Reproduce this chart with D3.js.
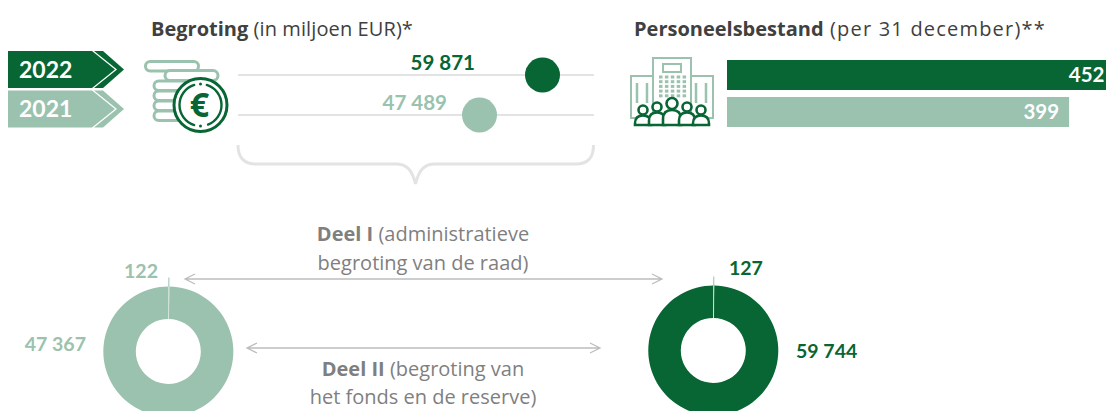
<!DOCTYPE html>
<html>
<head>
<meta charset="utf-8">
<script src="https://cdn.jsdelivr.net/npm/d3@7"></script>
<style>
  html, body { margin: 0; padding: 0; background: #fff; overflow: hidden; }
  text { font-family: "Open Sans", sans-serif; }
  .num { font-family: Lato, sans-serif; font-weight: 700; }
</style>
</head>
<body>
<div id="chart"></div>
<script>
// values
const years = ["2022", "2021"];
const budget = [59871, 47489];
const staff = [452, 399];
const part1 = [127, 122];
const part2 = [59744, 47367];

const dark = "#076633";
const light = "#9ac2ae";
const grey = "#7f7f7f";
const rule = "#e3e3e3";
const arrowGrey = "#bdbdbd";

const width = 1106;
const height = 411;

const fmt = d => String(d).replace(/\B(?=(\d{3})+$)/g, " ");

const svg = d3.select("#chart").append("svg")
    .attr("width", width)
    .attr("height", height);

// year tags
const tagTop = [51, 90.5];
const tags = svg.append("g").selectAll("g").data(years).join("g")
    .attr("transform", (d, i) => `translate(8,${tagTop[i]})`);
tags.append("path")
    .attr("d", "M0,0H84L107,18.5L84,37H0Z")
    .attr("fill", (d, i) => i == 0 ? dark : light);
tags.append("path")
    .attr("d", "M86,0H95L116,18.5L95,37H86L109,18.5Z")
    .attr("fill", (d, i) => i == 0 ? dark : light);
tags.append("text")
    .attr("class", "num")
    .attr("x", 11).attr("y", 26.5)
    .attr("font-size", 23)
    .attr("fill", "#fff")
    .text(d => d);

// titles
const t1 = svg.append("text").attr("x", 151).attr("y", 36).attr("font-size", 20).attr("fill", "#404040");
t1.append("tspan").attr("font-weight", 700).text("Begroting");
t1.append("tspan").attr("letter-spacing", 0.1).text(" (in miljoen EUR)*");
const t2 = svg.append("text").attr("x", 634).attr("y", 36).attr("font-size", 20).attr("fill", "#404040");
t2.append("tspan").attr("font-weight", 700).text("Personeelsbestand");
t2.append("tspan").attr("letter-spacing", 1.2).text(" (per 31 december)**");

// coin icon
const coins = svg.append("g").attr("fill", "#fff").attr("stroke", light).attr("stroke-width", 3);
coins.append("rect").attr("x", 145.5).attr("y", 61.5).attr("width", 53).attr("height", 9.5).attr("rx", 4.7);
coins.append("rect").attr("x", 165).attr("y", 70.5).attr("width", 53).attr("height", 10).attr("rx", 5);
[81, 91, 101, 111].forEach(y => {
    coins.append("rect").attr("x", 154).attr("y", y).attr("width", 45).attr("height", 9.5).attr("rx", 4.7);
});
const euro = svg.append("g").attr("transform", "translate(200.5,105)");
euro.append("circle").attr("r", 26.5).attr("fill", "#fff").attr("stroke", dark).attr("stroke-width", 3);
const ringArc = d3.arc().innerRadius(19.8).outerRadius(22.2).cornerRadius(1);
[[Math.PI * 0.08, Math.PI * 0.9], [Math.PI * 1.08, Math.PI * 1.92]].forEach(a => {
    euro.append("path").attr("d", ringArc({ startAngle: a[0], endAngle: a[1] })).attr("fill", dark);
});
euro.append("circle").attr("cy", -21).attr("r", 1.5).attr("fill", dark);
euro.append("circle").attr("cy", 21).attr("r", 1.5).attr("fill", dark);
euro.append("text").attr("x", -1).attr("y", 12).attr("text-anchor", "middle")
    .attr("font-size", 34).attr("font-weight", 700).attr("fill", dark).text("€");

// budget dots
const xBudget = d3.scaleLinear().domain([0, 70000]).range([238, 594]);
const dotY = [75, 115];
const labelX = [475, 447];
svg.append("g").selectAll("line").data(budget).join("line")
    .attr("x1", xBudget(0)).attr("x2", xBudget(70000))
    .attr("y1", (d, i) => dotY[i]).attr("y2", (d, i) => dotY[i])
    .attr("stroke", rule).attr("stroke-width", 2);
svg.append("g").selectAll("circle").data(budget).join("circle")
    .attr("cx", d => xBudget(d))
    .attr("cy", (d, i) => dotY[i])
    .attr("r", 17.5)
    .attr("fill", (d, i) => i == 0 ? dark : light);
svg.append("g").selectAll("text").data(budget).join("text")
    .attr("class", "num")
    .attr("x", (d, i) => labelX[i])
    .attr("y", (d, i) => dotY[i] - 5)
    .attr("text-anchor", "end")
    .attr("font-size", 20.5)
    .attr("fill", (d, i) => i == 0 ? dark : light)
    .text(fmt);

// brace under the budget
svg.append("path")
    .attr("d", "M238,145C238,158 244,164 256,164H396C407,164 412,170 415.5,184C419,170 424,164 435,164H576C588,164 593.5,158 593.5,145")
    .attr("fill", "none").attr("stroke", rule).attr("stroke-width", 3);

// building icon
const bld = svg.append("g").attr("fill", "none").attr("stroke", light).attr("stroke-width", 2);
bld.append("rect").attr("x", 653).attr("y", 58).attr("width", 38).attr("height", 60);
bld.append("rect").attr("x", 631).attr("y", 76).attr("width", 22).attr("height", 42);
bld.append("rect").attr("x", 691).attr("y", 76).attr("width", 22).attr("height", 42);
bld.append("rect").attr("x", 663).attr("y", 64).attr("width", 18).attr("height", 8);
d3.range(5).forEach(r => d3.range(5).forEach(c => {
    svg.append("rect").attr("x", 659 + c * 5.9).attr("y", 75.5 + r * 4.7).attr("width", 3.5).attr("height", 3).attr("fill", light);
}));
[[637], [647], [696], [706]].forEach(p => {
    bld.append("line").attr("x1", p[0]).attr("x2", p[0]).attr("y1", 83).attr("y2", 103).attr("stroke-width", 2.5);
});
// people in front of the building
const people = [[643, 110, 4.5], [657, 107, 4.5], [672, 103.5, 5.5], [687, 107, 4.5], [701, 110, 4.5]];
const ppl = svg.append("g").attr("stroke", dark).attr("stroke-width", 2.6).attr("fill", "#fff");
people.forEach(p => {
    const w = p[2] + 3.5;
    const top = p[1] + p[2] + 1;
    ppl.append("path").attr("d", `M${p[0] - w},125V${top + w}Q${p[0] - w},${top} ${p[0]},${top}Q${p[0] + w},${top} ${p[0] + w},${top + w}V125Z`);
    ppl.append("circle").attr("cx", p[0]).attr("cy", p[1]).attr("r", p[2]);
});

// staff bars, the longer one runs off the right edge
const xStaff = d3.scaleLinear().domain([0, 452]).range([727, 1114.5]);
const barTop = [60, 97];
svg.append("g").selectAll("rect").data(staff).join("rect")
    .attr("x", xStaff(0))
    .attr("y", (d, i) => barTop[i])
    .attr("width", d => xStaff(d) - xStaff(0))
    .attr("height", 30)
    .attr("fill", (d, i) => i == 0 ? dark : light);
svg.append("g").selectAll("text").data(staff).join("text")
    .attr("class", "num")
    .attr("x", d => xStaff(d) - 10)
    .attr("y", (d, i) => barTop[i] + 22)
    .attr("text-anchor", "end")
    .attr("font-size", 20.5)
    .attr("fill", "#fff")
    .text(d => d);

// donuts
const pie = d3.pie().sort(null);
const arc = d3.arc().innerRadius(32.5).outerRadius(65);
const donutX = [713.3, 168.3];
const donutY = [350.5, 351.5];
const donutColor = [dark, light];
years.forEach((y, i) => {
    const g = svg.append("g").attr("transform", `translate(${donutX[i]},${donutY[i]})`);
    const slices = pie([part1[i], part2[i]]);
    g.selectAll("path").data(slices).join("path")
        .attr("d", arc)
        .attr("fill", donutColor[i]);
    // thin leader through the tiny slice
    const a = slices[0].endAngle / 2;
    g.append("line")
        .attr("x1", 32.5 * Math.sin(a)).attr("y1", -32.5 * Math.cos(a))
        .attr("x2", 65 * Math.sin(a)).attr("y2", -65 * Math.cos(a))
        .attr("stroke", "#d5e6dc").attr("stroke-width", 1);
    g.append("line")
        .attr("x1", 65 * Math.sin(a)).attr("y1", -65 * Math.cos(a))
        .attr("x2", 74 * Math.sin(a)).attr("y2", -74 * Math.cos(a))
        .attr("stroke", light).attr("stroke-width", 1);
});

// donut labels
const lab = [
    { x: 729, y: 275, v: part1[0], c: dark, a: "start" },
    { x: 796, y: 358, v: part2[0], c: dark, a: "start" },
    { x: 158, y: 278, v: part1[1], c: light, a: "end" },
    { x: 86, y: 351, v: part2[1], c: light, a: "end" }
];
svg.append("g").selectAll("text").data(lab).join("text")
    .attr("class", "num")
    .attr("x", d => d.x).attr("y", d => d.y)
    .attr("text-anchor", d => d.a)
    .attr("font-size", 19.5)
    .attr("fill", d => d.c)
    .text(d => fmt(d.v));

// double arrows
function dblArrow(x1, x2, y) {
    const h = 5, w = 10;
    svg.append("path")
        .attr("d", `M${x1 + w},${y - h}L${x1},${y}L${x1 + w},${y + h}M${x1},${y}H${x2}M${x2 - w},${y - h}L${x2},${y}L${x2 - w},${y + h}`)
        .attr("fill", "none").attr("stroke", arrowGrey).attr("stroke-width", 1.3);
}
dblArrow(185, 662, 279);
dblArrow(247, 600, 348);

// part captions
function caption(lines, ys) {
    lines.forEach((l, i) => {
        const t = svg.append("text").attr("x", 423).attr("y", ys[i])
            .attr("text-anchor", "middle").attr("font-size", 20).attr("fill", grey);
        if (l[0]) t.append("tspan").attr("font-weight", 700).text(l[0]);
        t.append("tspan").text(l[1]);
    });
}
caption([["Deel I", " (administratieve"], ["", "begroting van de raad)"]], [241, 270]);
caption([["Deel II", " (begroting van"], ["", "het fonds en de reserve)"]], [376, 404]);
</script>
</body>
</html>
